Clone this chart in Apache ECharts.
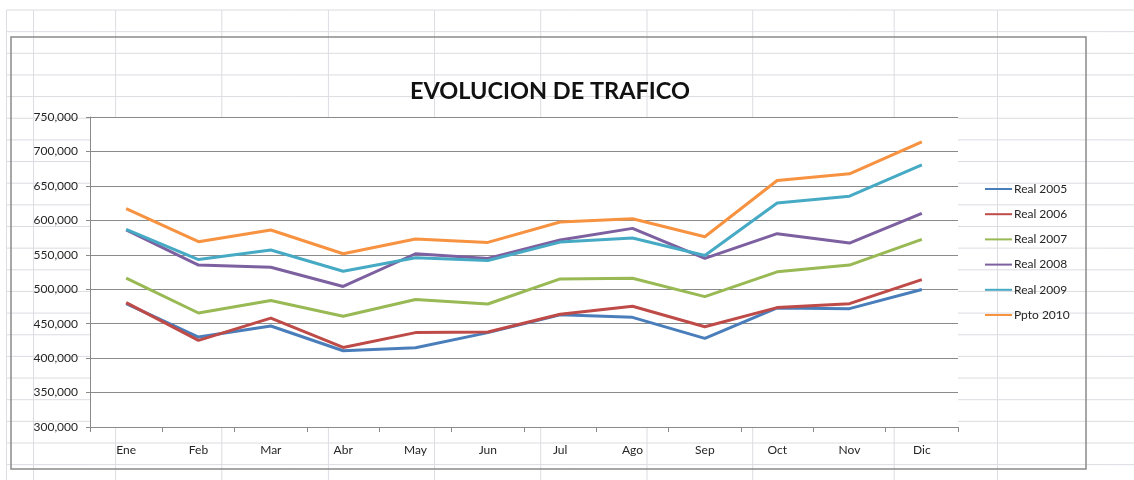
<!DOCTYPE html>
<html>
<head>
<meta charset="utf-8">
<script src="https://cdn.jsdelivr.net/npm/echarts@6/dist/echarts.min.js"></script>
<style>
html,body{margin:0;padding:0;background:#fff;}
#chart{width:1134px;height:480px;}
</style>
</head>
<body>
<div id="chart"></div>
<script>
const months = ['Ene','Feb','Mar','Abr','May','Jun','Jul','Ago','Sep','Oct','Nov','Dic'];
const real2005 = [479000, 430600, 446600, 410700, 415000, 437000, 463000, 459200, 428600, 472800, 471800, 499500];
const real2006 = [480600, 425700, 458000, 415500, 437000, 438000, 463600, 475200, 445600, 473300, 479000, 514000];
const real2007 = [516000, 465500, 483500, 460700, 485000, 478600, 515000, 516000, 489300, 525200, 535000, 572300];
const real2008 = [586000, 535000, 532000, 504000, 551500, 544700, 571400, 588300, 544700, 580600, 567000, 610200];
const real2009 = [587000, 543000, 557000, 526000, 545600, 541700, 568400, 574300, 549000, 625200, 635000, 680600];
const ppto2010 = [617000, 569000, 586000, 551500, 573000, 568000, 597600, 602400, 576200, 657800, 667500, 714000];
const seriesNames = ['Real 2005','Real 2006','Real 2007','Real 2008','Real 2009','Ppto 2010'];
const seriesData = [real2005, real2006, real2007, real2008, real2009, ppto2010];
const colors = ['#4A7EBB','#BE4B48','#98B954','#7D60A0','#46AAC5','#F69240'];
const chartTitle = 'EVOLUCION DE TRAFICO';

const FONT = 'Lato, "Open Sans", sans-serif';

// decorative spreadsheet background (cell grid)
const sheetLines = [];
const colX = [6.5, 33.5, 115.6, 221.8, 328.4, 434.5, 540.7, 647, 752.7, 894.2, 997.5];
colX.forEach(x => sheetLines.push({type:'line', z:-10, silent:true,
  shape:{x1:x, y1:10, x2:x, y2:480}, style:{stroke:'#dcdce2', lineWidth:1}}));
for (let y = 10; y < 480; y += 21.65) {
  sheetLines.push({type:'line', z:-10, silent:true,
    shape:{x1:6.5, y1:y, x2:1134, y2:y}, style:{stroke:'#dcdce2', lineWidth:1}});
}
sheetLines.push({type:'rect', z:-5, silent:true,
  shape:{x:11, y:37, width:1075, height:432},
  style:{fill:'none', stroke:'#8a8a8a', lineWidth:1.5}});

const chart = echarts.init(document.getElementById('chart'));
chart.setOption({
  animation:false,
  backgroundColor:'transparent',
  color: colors,
  graphic: sheetLines,
  title: {
    text: chartTitle,
    left: 545,
    textAlign: 'center',
    top: 74,
    textStyle: {fontFamily: FONT, fontWeight: 'bold', fontSize: 23.5, color: '#111'}
  },
  legend: {
    orient: 'vertical',
    left: 980,
    top: 177,
    icon: 'rect',
    itemWidth: 27,
    itemHeight: 2,
    itemGap: 11.2,
    data: seriesNames,
    textStyle: {fontFamily: FONT, fontSize: 12, color: '#262626', lineHeight: 14, padding:[0,0,0,-3]}
  },
  grid: {
    left: 90, right: 176, top: 117, bottom: 53,
    show: true, backgroundColor: '#ffffff', borderWidth: 0
  },
  xAxis: {
    type: 'category',
    data: months,
    boundaryGap: true,
    axisLine: {lineStyle: {color: '#8a8a8a', width: 1}},
    axisTick: {show: true, length: 5, lineStyle: {color: '#8a8a8a'}},
    axisLabel: {fontFamily: FONT, fontSize: 12, color: '#262626', margin: 17}
  },
  yAxis: {
    type: 'value',
    min: 300000, max: 750000, interval: 50000,
    axisLine: {show: true, lineStyle: {color: '#8a8a8a', width: 1}},
    axisTick: {show: true, length: 4, lineStyle: {color: '#8a8a8a'}},
    splitLine: {lineStyle: {color: '#8a8a8a', width: 1}},
    axisLabel: {fontFamily: FONT, fontSize: 12, color: '#262626', margin: 12,
      formatter: v => v.toLocaleString('en-US')}
  },
  series: seriesNames.map((n, i) => ({
    name: n,
    type: 'line',
    data: seriesData[i],
    symbol: 'none',
    lineStyle: {width: 3, color: colors[i]},
    itemStyle: {color: colors[i]}
  }))
});
</script>
</body>
</html>
